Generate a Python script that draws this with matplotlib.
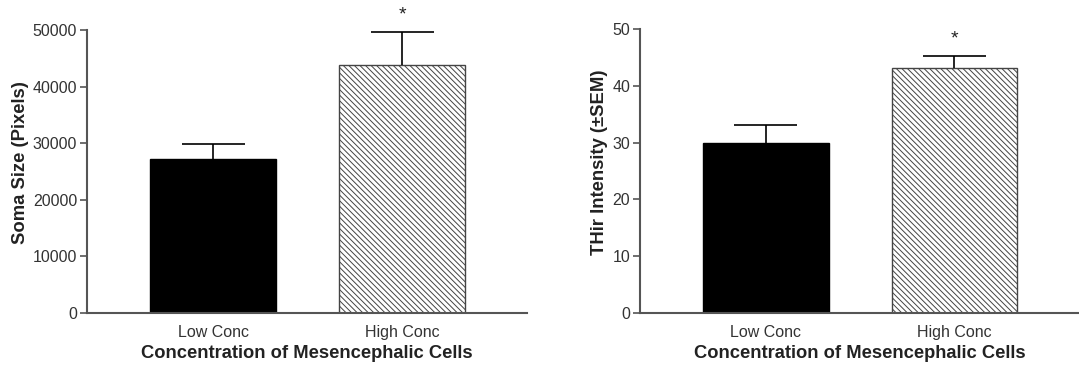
import matplotlib
matplotlib.use("Agg")
import matplotlib.pyplot as plt

groups = ["Low Conc", "High Conc"]
soma_mean = [27200, 43900]
soma_sem = [2700, 5800]
thir_mean = [30.0, 43.1]
thir_sem = [3.1, 2.2]
signif = ["", "*"]

plt.rcParams["font.family"] = ["Liberation Sans", "DejaVu Sans"]
plt.rcParams["hatch.linewidth"] = 0.7
plt.rcParams["hatch.color"] = "#333333"

fig = plt.figure(figsize=(10.79, 3.68), dpi=100)
axes = [fig.add_axes([0.0806, 0.1495, 0.4078, 0.769]),
        fig.add_axes([0.5931, 0.1503, 0.4069, 0.770])]

panels = [(soma_mean, soma_sem, "Soma Size (Pixels)", 50000, 10000),
          (thir_mean, thir_sem, "THir Intensity (\u00b1SEM)", 50, 10)]

W = 0.667
for ax, (m, s, ylab, ymax, step) in zip(axes, panels):
    x = list(range(len(groups)))
    ax.bar(x[0], m[0], width=W, color="black", edgecolor="black", zorder=2)
    ax.bar(x[1], m[1], width=W, color="white", edgecolor="#444444",
           hatch="\\\\\\\\\\\\", linewidth=1.0, zorder=2)
    for xi, mi, si, lab in zip(x, m, s, signif):
        # upper SEM only
        ax.vlines(xi, mi, mi + si, color="black", lw=1.2, zorder=3)
        ax.hlines(mi + si, xi - W / 4, xi + W / 4, color="black", lw=1.2, zorder=3)
        if lab:
            ax.text(xi, mi + si + ymax * 0.03, lab, ha="center", va="bottom",
                    fontsize=14, color="#222222")
    ax.set_xlim(-0.667, 1.66)
    ax.set_ylim(0, ymax)
    ax.set_yticks(range(0, ymax + 1, step))
    ax.set_xticks(x)
    ax.set_xticklabels(groups, fontsize=11.5, color="#333333")
    ax.tick_params(axis="x", length=0, pad=9)
    ax.tick_params(axis="y", length=5, width=1.2, color="#555555",
                   labelsize=11.5, labelcolor="#333333", pad=2)
    for sp in ["top", "right"]:
        ax.spines[sp].set_visible(False)
    for sp in ["left", "bottom"]:
        ax.spines[sp].set_color("#555555")
        ax.spines[sp].set_linewidth(1.5)
    ax.set_ylabel(ylab, fontsize=13.3, fontweight="bold", color="#222222", labelpad=3)
    ax.yaxis.label.set_y(0.53)
    ax.set_xlabel("Concentration of Mesencephalic Cells", fontsize=13.2,
                  fontweight="bold", color="#222222", labelpad=3.5)

fig.savefig("out.png", dpi=100)
